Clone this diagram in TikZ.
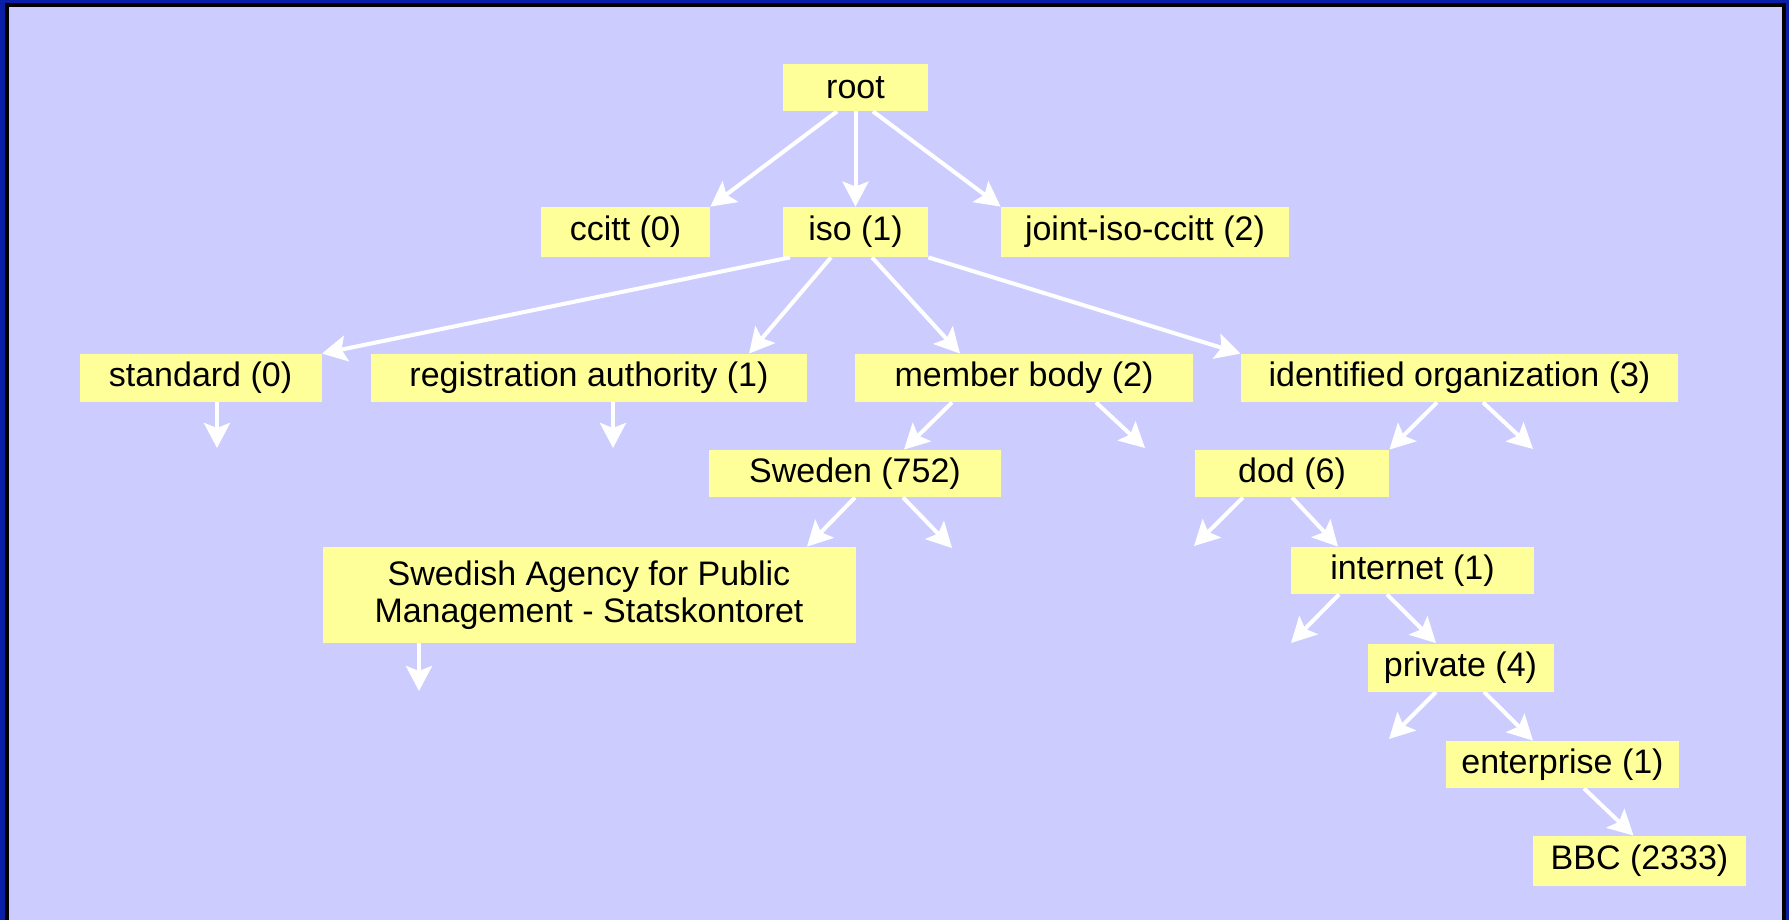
\documentclass[tikz,border=0pt]{standalone}
\usepackage{fontspec}
\setmainfont{Liberation Sans}
\usetikzlibrary{arrows.meta}

\definecolor{frameblue}{HTML}{0A1EA8}
\definecolor{slidebg}{HTML}{CCCCFF}
\definecolor{oidyellow}{HTML}{FFFF99}

\tikzset{
  oidbox/.style={fill=oidyellow, inner sep=0pt, align=center,
    font=\fontsize{17}{18.5}\selectfont},
  oidarc/.style={draw=white, line width=2pt,
    -{Stealth[length=12.5pt, width=13pt, inset=2.5pt]}}
}

\begin{document}
\begin{tikzpicture}[x=0.5pt,y=-0.5pt]
    % Slide frame
    \useasboundingbox (0,0) rectangle (1789,920);
    \fill[frameblue] (0,0) rectangle (1789,920);
    \fill[black] (5,3) rectangle (1786,920);
    \fill[slidebg] (9,7) rectangle (1782,920);

    % Top levels
    \node[oidbox, minimum width=72.5pt, minimum height=23.5pt] (root) at (855.5,87.5) {root};
    \node[oidbox, minimum width=84.5pt, minimum height=25pt] (ccitt) at (625.5,232) {ccitt (0)};
    \node[oidbox, minimum width=72.5pt, minimum height=25pt] (iso) at (855.5,232) {iso (1)};
    \node[oidbox, minimum width=144pt, minimum height=25pt] (joint) at (1145,232) {joint-iso-ccitt (2)};

    % Below iso
    \node[oidbox, minimum width=121pt, minimum height=24pt] (standard) at (200.5,378) {standard (0)};
    \node[oidbox, minimum width=218pt, minimum height=24pt] (regauth) at (589,378) {registration authority (1)};
    \node[oidbox, minimum width=169pt, minimum height=24pt] (member) at (1024,378) {member body (2)};
    \node[oidbox, minimum width=218.5pt, minimum height=24pt] (identorg) at (1459.5,378) {identified organization (3)};

    % Sweden branch
    \node[oidbox, minimum width=146pt, minimum height=23.5pt] (sweden) at (855,473.5) {Sweden (752)};
    \node[oidbox, minimum width=266.5pt, minimum height=48pt] (statskontoret) at (589,595)
        {Swedish Agency for Public\\Management - Statskontoret};

    % dod branch
    \node[oidbox, minimum width=97pt, minimum height=23.5pt] (dod) at (1292,473.5) {dod (6)};
    \node[oidbox, minimum width=121.5pt, minimum height=23.5pt] (internet) at (1412.5,570.5) {internet (1)};
    \node[oidbox, minimum width=93pt, minimum height=24pt] (private) at (1460.5,667.5) {private (4)};
    \node[oidbox, minimum width=116.5pt, minimum height=23.5pt] (enterprise) at (1562.5,764.5) {enterprise (1)};
    \node[oidbox, minimum width=106.5pt, minimum height=25pt] (bbc) at (1639.5,861) {BBC (2333)};

    % Open ends
    \coordinate (standard-more) at (217,448);
    \coordinate (regauth-more) at (613,448);
    \coordinate (member-more) at (1145,448);
    \coordinate (identorg-more) at (1533,449);
    \coordinate (sweden-more) at (952,548);
    \coordinate (statskontoret-more) at (419,691);
    \coordinate (dod-more) at (1194,546);
    \coordinate (internet-more) at (1291,643);
    \coordinate (private-more) at (1389,739);

    % Arcs from root and iso
    \draw[oidarc] ([shift={(-18.5,0)}]root.south) -- (ccitt.north east);
    \draw[oidarc] (root.south) -- (iso.north);
    \draw[oidarc] ([shift={(17.5,0)}]root.south) -- (joint.north west);
    \draw[oidarc] ([shift={(-65.5,0)}]iso.south) -- (standard.north east);
    \draw[oidarc] ([shift={(-24.5,0)}]iso.south) -- ([shift={(160,0)}]regauth.north);
    \draw[oidarc] ([shift={(16.5,0)}]iso.south) -- ([shift={(-64,0)}]member.north);
    \draw[oidarc] (iso.south east) -- (identorg.north west);

    % Arcs further down
    \draw[oidarc] (standard-more |- standard.south) -- (standard-more);
    \draw[oidarc] (regauth-more |- regauth.south) -- (regauth-more);
    \draw[oidarc] ([shift={(-72,0)}]member.south) -- ([shift={(49,0)}]sweden.north);
    \draw[oidarc] ([shift={(72,0)}]member.south) -- (member-more);
    \draw[oidarc] ([shift={(-22.5,0)}]identorg.south) -- (dod.north east);
    \draw[oidarc] ([shift={(23.5,0)}]identorg.south) -- (identorg-more);
    \draw[oidarc] (sweden.south) -- ([shift={(218,0)}]statskontoret.north);
    \draw[oidarc] ([shift={(48,0)}]sweden.south) -- (sweden-more);
    \draw[oidarc] (statskontoret-more |- statskontoret.south) -- (statskontoret-more);
    \draw[oidarc] ([shift={(-49,0)}]dod.south) -- (dod-more);
    \draw[oidarc] (dod.south) -- ([shift={(-74.5,0)}]internet.north);
    \draw[oidarc] ([shift={(-73.5,0)}]internet.south) -- (internet-more);
    \draw[oidarc] ([shift={(-25.5,0)}]internet.south) -- ([shift={(-24.5,0)}]private.north);
    \draw[oidarc] ([shift={(-24.5,0)}]private.south) -- (private-more);
    \draw[oidarc] ([shift={(23.5,0)}]private.south) -- ([shift={(-29.5,0)}]enterprise.north);
    \draw[oidarc] ([shift={(21.5,0)}]enterprise.south) -- ([shift={(-6,0)}]bbc.north);
\end{tikzpicture}
\end{document}
